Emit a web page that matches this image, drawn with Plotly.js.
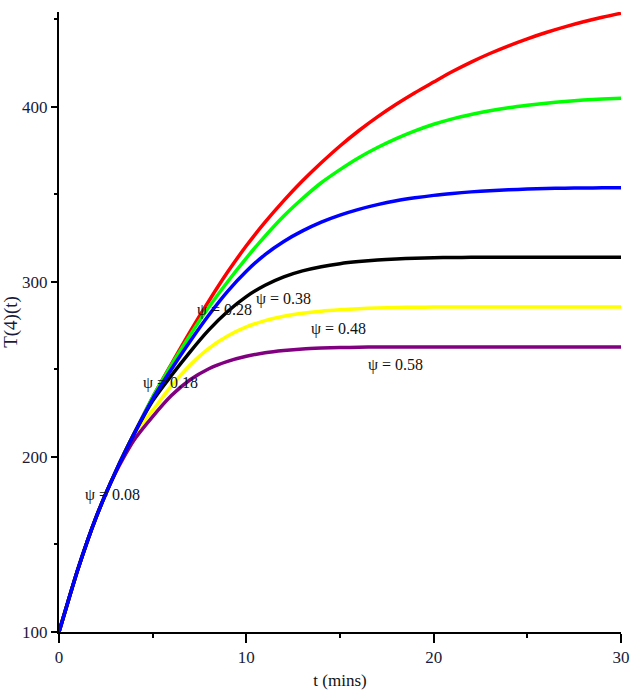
<!DOCTYPE html>
<html>
<head>
<meta charset="utf-8">
<script src="https://cdn.plot.ly/plotly-3.0.1.min.js"></script>
<style>html,body{margin:0;padding:0;background:#fff;}#chart{width:630px;height:697px;}</style>
</head>
<body>
<div id="chart"></div>
<script>
// time (mins)
var tEarly = [0, 0.5, 1, 1.5, 2, 2.5, 3, 3.5, 4];
var tLate = [5, 6, 7, 8, 9, 10, 11, 12, 13, 14, 15, 16, 17, 18, 19, 20, 21, 22, 23, 24, 25, 26, 27, 28, 29, 30];
var commonEarly = [100, 118, 135.5, 151.5, 166, 179, 191, 202.3, 213];

var redLate    = [234, 253, 271.5, 289, 305.5, 320.5, 334, 346.3, 357.6, 367.9, 377.5, 386.2, 394.1, 401.3, 407.9, 414, 420, 425.4, 430.3, 434.7, 438.7, 442.3, 445.5, 448.4, 451, 453.3];
var greenLate  = [234, 252.5, 269.5, 285.5, 300, 313.5, 326, 337.5, 347.5, 356.5, 364, 370.8, 376.6, 381.7, 386.1, 389.9, 393, 395.5, 397.6, 399.3, 400.7, 401.9, 402.9, 403.7, 404.3, 404.7];
var blueLate   = [233, 250, 266, 281, 294.5, 306, 315.5, 323, 329, 334, 338, 341.3, 344, 346.2, 347.9, 349.3, 350.4, 351.3, 352, 352.5, 352.9, 353.2, 353.4, 353.5, 353.6, 353.6];
var blackLate  = [232, 246.5, 260, 272.5, 283, 291.5, 298, 302.8, 306.2, 308.6, 310.3, 311.5, 312.4, 313, 313.4, 313.7, 313.8, 313.9, 313.9, 313.9, 313.9, 313.9, 313.9, 313.9, 313.9, 313.9];
var yellowLate = [226.5, 240.5, 252.5, 262, 269, 274.2, 277.8, 280.3, 282, 283.2, 284, 284.6, 285, 285.3, 285.4, 285.5, 285.5, 285.5, 285.5, 285.5, 285.5, 285.5, 285.5, 285.5, 285.5, 285.5];
var purpleEarly = [100, 118, 135.5, 151.5, 166, 179, 190.5, 200.5, 209.5];
var purpleLate = [223, 235, 244, 250.3, 254.5, 257.4, 259.4, 260.7, 261.6, 262.1, 262.4, 262.6, 262.7, 262.7, 262.7, 262.7, 262.7, 262.7, 262.7, 262.7, 262.7, 262.7, 262.7, 262.7, 262.7, 262.7];

var labels = ["\u03C8 = 0.08", "\u03C8 = 0.18", "\u03C8 = 0.28", "\u03C8 = 0.38", "\u03C8 = 0.48", "\u03C8 = 0.58"];
var labelT = [2.88, 5.93, 8.86, 11.96, 14.9, 17.94];
var labelV = [178.2, 242, 283.7, 290, 272.8, 252.3];

var tAll = tEarly.concat(tLate);
function mk(early, late, color) {
  return {x: tAll, y: early.concat(late), mode: 'lines', type: 'scatter',
          line: {color: color, width: 3.5, shape: 'spline', smoothing: 0.8},
          hoverinfo: 'skip', showlegend: false};
}
var data = [
  mk(commonEarly, redLate, '#ff0000'),
  mk(commonEarly, greenLate, '#00ff00'),
  mk(commonEarly, yellowLate, '#ffff00'),
  mk(purpleEarly, purpleLate, '#800080'),
  mk(commonEarly, blackLate, '#000000'),
  mk(commonEarly, blueLate, '#0000ff')
];

var annotations = labels.map(function(s, i) {
  return {x: labelT[i], y: labelV[i], xref: 'x', yref: 'y', text: s, showarrow: false,
          font: {family: 'Liberation Serif, Times New Roman, serif', size: 16, color: '#111'}};
});

var tickFont = {family: 'Liberation Serif, Times New Roman, serif', size: 17, color: '#1a1a3a'};
var layout = {
  width: 630, height: 697,
  margin: {l: 59, r: 9, t: 12, b: 65},
  paper_bgcolor: '#fff', plot_bgcolor: '#fff',
  showlegend: false,
  xaxis: {
    range: [0, 30], tickvals: [0, 10, 20, 30], ticktext: ['0', '10', '20', '30'],
    showgrid: false, zeroline: false, showline: true, linecolor: '#000', linewidth: 2,
    ticks: 'outside', ticklen: 9, tickwidth: 2, tickcolor: '#000',
    minor: {tickvals: [5, 15, 25], ticks: 'outside', ticklen: 4, tickwidth: 2, tickcolor: '#000', showgrid: false},
    tickfont: tickFont,
    title: {text: 't (mins)', font: {family: 'Liberation Serif, Times New Roman, serif', size: 17, color: '#111'}, standoff: 8}
  },
  yaxis: {
    range: [100, 454], tickvals: [100, 200, 300, 400], ticktext: ['100', '200', '300', '400'],
    showgrid: false, zeroline: false, showline: true, linecolor: '#000', linewidth: 2,
    ticks: 'outside', ticklen: 6, tickwidth: 2, tickcolor: '#000',
    minor: {tickvals: [150, 250, 350, 450], ticks: 'outside', ticklen: 3, tickwidth: 2, tickcolor: '#000', showgrid: false},
    tickfont: tickFont,
    title: {text: 'T(4)(t)', font: {family: 'Liberation Serif, Times New Roman, serif', size: 19, color: '#1a1a3a'}, standoff: 6}
  },
  annotations: annotations
};
Plotly.newPlot('chart', data, layout, {displayModeBar: false, staticPlot: true});
</script>
</body>
</html>
